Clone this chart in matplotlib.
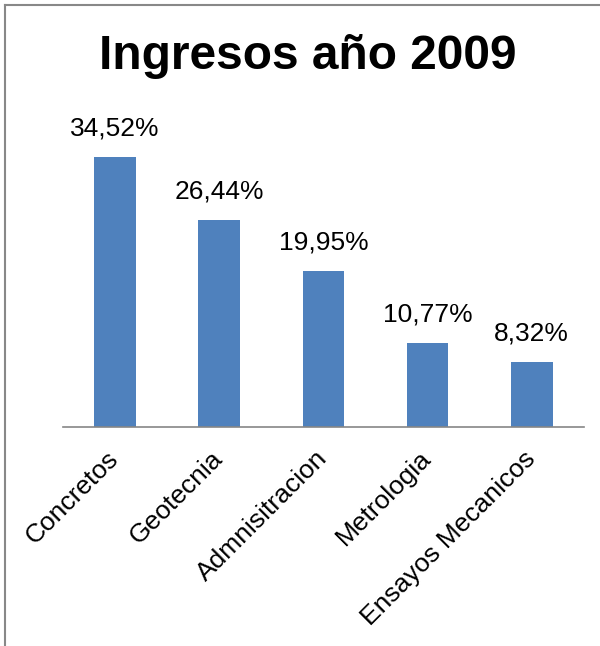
import matplotlib.pyplot as plt
from matplotlib.lines import Line2D

categories = ['Concretos', 'Geotecnia', 'Admnisitracion', 'Metrologia', 'Ensayos Mecanicos']
values = [34.52, 26.44, 19.95, 10.77, 8.32]
value_labels = ['34,52%', '26,44%', '19,95%', '10,77%', '8,32%']

plt.rcParams['font.family'] = ['Liberation Sans', 'DejaVu Sans']

fig = plt.figure(figsize=(6.0, 6.46), dpi=100)
ax = fig.add_axes([0.105, 0.339, 0.868, 0.485])

x = range(len(categories))
bars = ax.bar(x, values, width=0.4, color='#4F81BD')
ax.set_xlim(-0.5, len(categories) - 0.5)
ax.set_ylim(0, 40)

for b, lab in zip(bars, value_labels):
    ax.annotate(lab, (b.get_x() + b.get_width() / 2, b.get_height()),
                xytext=(0, 16), textcoords='offset pixels',
                ha='center', va='bottom', fontsize=19)

ax.set_xticks(list(x))
ax.set_xticklabels(categories, rotation=45, ha='right', va='center',
                   rotation_mode='anchor', fontsize=19)
ax.tick_params(axis='x', length=0, pad=20)
ax.set_yticks([])
for s in ['top', 'right', 'left']:
    ax.spines[s].set_visible(False)
ax.spines['bottom'].set_color('#868686')
ax.spines['bottom'].set_linewidth(1.2)

fig.text(0.513, 0.912, 'Ingresos año 2009', ha='center', va='center',
         fontsize=34.5, fontweight='bold')

# outer chart border (partly cut off at right and bottom)
fig.add_artist(Line2D([5 / 600, 5 / 600], [0, 1 - 5 / 646], transform=fig.transFigure,
                      color='#888888', lw=1.5))
fig.add_artist(Line2D([5 / 600, 1], [1 - 5 / 646, 1 - 5 / 646], transform=fig.transFigure,
                      color='#888888', lw=1.5))

fig.savefig('out.png', dpi=100)
